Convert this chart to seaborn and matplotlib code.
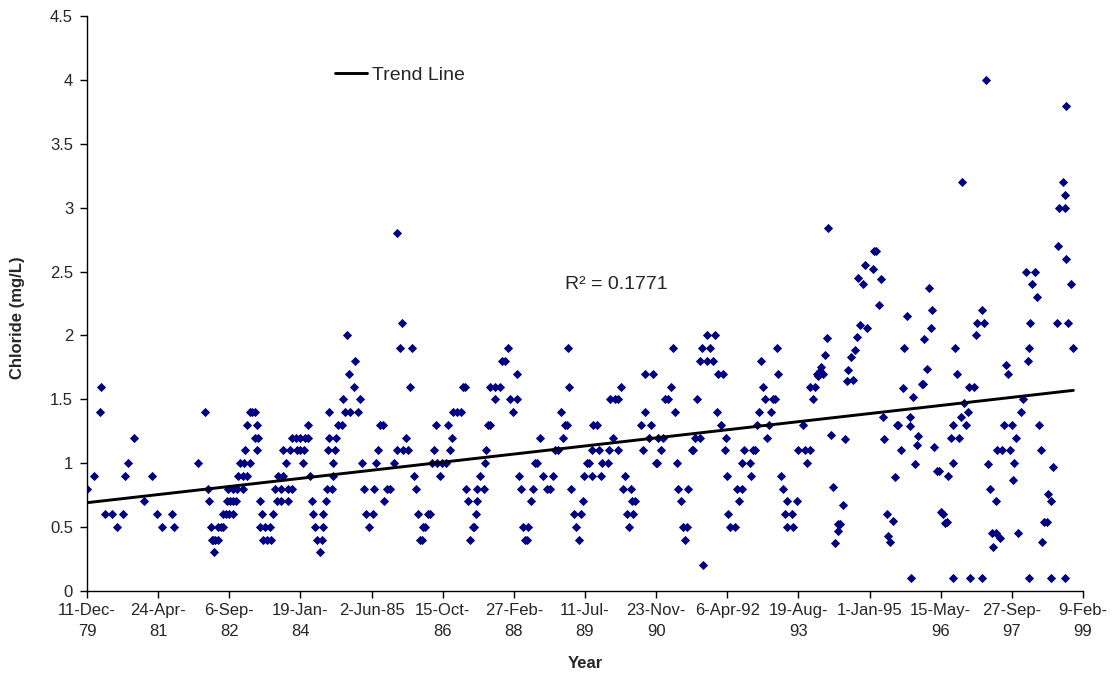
import pandas as pd
import matplotlib
matplotlib.use("Agg")
from matplotlib import pyplot as plt
from matplotlib.ticker import FuncFormatter
import seaborn as sns

# sample dates are stored as days after the first sample (11-Dec-1979)
start_date = pd.Timestamp("1979-12-11")

days_a = [2, 49, 98, 89, 127, 176, 211, 251, 265, 288,
          330, 401, 455, 490, 527, 598, 612, 780, 830, 851,
          858, 870, 886, 893, 879, 900, 921, 921, 942, 956,
          956, 977, 998, 1026, 984, 1005, 1026, 1047, 991, 1026,
          1054, 1097, 1061, 1097, 1125, 1076, 1104, 1146, 1111, 1125,
          1146]
chloride_a = [0.8, 0.9, 1.6, 1.4, 0.6, 0.6, 0.5, 0.6, 0.9, 1.0,
              1.2, 0.7, 0.9, 0.6, 0.5, 0.6, 0.5, 1.0, 1.4, 0.8,
              0.7, 0.5, 0.4, 0.3, 0.4, 0.4, 0.4, 0.5, 0.5, 0.5,
              0.6, 0.6, 0.6, 0.6, 0.7, 0.7, 0.7, 0.7, 0.8, 0.8,
              0.8, 0.8, 0.9, 0.9, 0.9, 1.0, 1.0, 1.0, 1.1, 1.3,
              1.4]

days_b = [1195, 1195, 1160, 1181, 1181, 1202, 1216, 1230, 1216, 1251,
          1286, 1237, 1265, 1294, 1308, 1322, 1364, 1336, 1364, 1343,
          1378, 1399, 1378, 1413, 1441, 1413, 1441, 1469, 1497, 1533,
          1554, 1427, 1476, 1497, 1526, 1518, 1554, 1568, 1582, 1589,
          1603, 1659, 1617, 1652, 1638, 1659, 1680, 1687, 1722, 1729,
          1729, 1694, 1743, 1701, 1750, 1765, 1793, 1701, 1800, 1814,
          1849, 1905, 1877, 1842, 1884, 1828, 1919, 1933, 1947, 1961,
          2011, 1982, 2018, 2032, 2046, 2060, 2081, 2088, 2109, 2130,
          2158, 2180, 2243, 2200, 2214, 2180]
chloride_b = [1.1, 1.3, 1.4, 1.4, 1.2, 1.2, 0.7, 0.6, 0.5, 0.5,
              0.5, 0.4, 0.4, 0.4, 0.6, 0.8, 0.8, 0.7, 0.7, 0.9,
              0.9, 1.0, 1.1, 0.8, 0.8, 0.7, 1.2, 1.2, 1.2, 1.2,
              1.2, 1.1, 1.1, 1.1, 1.1, 1.0, 1.3, 0.9, 0.7, 0.6,
              0.5, 0.5, 0.4, 0.4, 0.3, 0.6, 0.7, 0.8, 0.8, 0.9,
              1.0, 1.1, 1.1, 1.2, 1.2, 1.3, 1.3, 1.4, 1.5, 1.4,
              1.4, 1.4, 1.6, 1.7, 1.8, 2.0, 1.5, 1.0, 0.8, 0.6,
              0.6, 0.5, 0.8, 1.0, 1.1, 1.3, 1.3, 0.7, 0.8, 0.8,
              1.0, 1.1, 1.2, 1.9, 2.1, 2.8]

days_c = [2285, 2271, 2222, 2257, 2299, 2313, 2327, 2362, 2376, 2341,
          2355, 2397, 2411, 2425, 2461, 2496, 2524, 2439, 2453, 2482,
          2538, 2552, 2566, 2573, 2601, 2629, 2643, 2657, 2664, 2678,
          2692, 2714, 2721, 2735, 2742, 2742, 2791, 2763, 2798, 2805,
          2819, 2833, 2833, 2868, 2903, 2868, 2917, 2939, 2960, 3023,
          2974, 3023, 2995, 3037, 3051, 3065, 3100, 3079, 3093, 3121,
          3135, 3149, 3164, 3185, 3206, 3276, 3234, 3255, 3290, 3311,
          3332, 3346, 3360, 3381, 3388]
chloride_c = [1.9, 1.6, 1.1, 1.1, 0.9, 0.8, 0.6, 0.5, 0.5, 0.4,
              0.4, 0.6, 0.6, 1.0, 1.0, 1.0, 1.0, 1.1, 1.3, 0.9,
              1.3, 1.1, 1.2, 1.4, 1.4, 1.4, 1.6, 1.6, 0.8, 0.7,
              0.4, 0.5, 0.5, 0.6, 0.7, 0.8, 0.8, 0.9, 1.0, 1.1,
              1.3, 1.3, 1.6, 1.6, 1.6, 1.5, 1.8, 1.8, 1.9, 1.7,
              1.5, 1.5, 1.4, 0.9, 0.8, 0.5, 0.5, 0.4, 0.4, 0.7,
              0.8, 1.0, 1.0, 1.2, 0.9, 0.9, 0.8, 0.8, 1.1, 1.1,
              1.4, 1.2, 1.3, 1.9, 1.6]

days_d = [3374, 3402, 3424, 3473, 3438, 3459, 3487, 3494, 3550, 3515,
          3529, 3550, 3599, 3557, 3585, 3613, 3620, 3663, 3670, 3698,
          3677, 3712, 3733, 3733, 3754, 3782, 3768, 3824, 3831, 3852,
          3796, 3838, 3810, 3895, 3909, 3923, 3923, 3979, 3951, 3965,
          4000, 4007, 4014, 4049, 4035, 4063, 4084, 4106, 4120, 4134,
          4148, 4155, 4225, 4176, 4190, 4218, 4204, 4253, 4260, 4288,
          4274, 4309, 4309, 4359, 4323, 4380, 4359, 4415, 4401, 4330,
          4436, 4471, 4429, 4457, 4492, 4485, 4499, 4506, 4520]
chloride_d = [1.3, 0.8, 0.6, 0.6, 0.5, 0.4, 0.7, 0.9, 0.9, 1.0,
              1.0, 1.1, 1.1, 1.3, 1.3, 0.9, 1.0, 1.0, 1.1, 1.2,
              1.5, 1.5, 1.5, 1.1, 1.6, 0.9, 0.8, 0.8, 0.7, 0.7,
              0.6, 0.6, 0.5, 1.3, 1.1, 1.4, 1.7, 1.7, 1.2, 1.3,
              1.0, 1.0, 1.2, 1.2, 1.1, 1.5, 1.5, 1.6, 1.9, 1.4,
              1.0, 0.8, 0.8, 0.7, 0.5, 0.5, 0.4, 1.1, 1.1, 1.5,
              1.2, 1.2, 1.8, 1.8, 1.9, 1.9, 2.0, 2.0, 1.8, 0.2,
              1.7, 1.7, 1.4, 1.3, 1.2, 1.1, 0.9, 0.6, 0.5]

days_e = [4555, 4569, 4605, 4584, 4605, 4661, 4619, 4682, 4696, 4668,
          4710, 4724, 4738, 4752, 4766, 4809, 4794, 4780, 4823, 4837,
          4851, 4858, 4879, 4893, 4907, 4956, 4921, 4991, 4921, 4963,
          4998, 5048, 5083, 5033, 5062, 5083, 5118, 5104, 5132, 5139,
          5153, 5174, 5160, 5188, 5202, 5209, 5230, 5244, 5258, 5280,
          5294, 5280, 5315, 5329, 5343, 5350, 5371, 5385, 5399, 5413,
          5434, 5483, 5420, 5455, 5469, 5526, 5533, 5547, 5582, 5568,
          5596, 5603, 5624, 5631]
chloride_e = [0.5, 0.8, 0.8, 0.7, 1.0, 1.0, 1.1, 1.1, 1.1, 0.9,
              1.3, 1.4, 1.8, 1.6, 1.5, 1.4, 1.3, 1.2, 1.5, 1.5,
              1.9, 1.7, 0.9, 0.8, 0.6, 0.6, 0.7, 0.7, 0.5, 0.5,
              1.1, 1.1, 1.1, 1.3, 1.0, 1.6, 1.6, 1.5, 1.7, 1.68,
              1.72, 1.7, 1.75, 1.85, 1.98, 2.84, 1.22, 0.81, 0.37, 0.52,
              0.52, 0.47, 0.67, 1.19, 1.64, 1.73, 1.83, 1.65, 1.89, 1.99,
              2.08, 2.06, 2.45, 2.4, 2.55, 2.52, 2.66, 2.66, 2.44, 2.24,
              1.36, 1.19, 0.6, 0.43]

days_f = [5666, 5645, 5680, 5694, 5701, 5722, 5736, 5743, 5765, 5786,
          5786, 5807, 5793, 5821, 5835, 5842, 5870, 5877, 5884, 5905,
          5919, 5933, 5940, 5954, 5975, 5990, 6004, 6018, 6032, 6046,
          6053, 6074, 6088, 6088, 6088, 6102, 6117, 6131, 6145, 6152,
          6166, 6180, 6194, 6201, 6236, 6208, 6250, 6257, 6306, 6292,
          6292, 6320, 6334, 6348, 6362, 6390, 6369, 6390, 6397]
chloride_f = [0.55, 0.38, 0.89, 1.3, 1.3, 1.1, 1.59, 1.9, 2.15, 1.36,
              1.29, 1.52, 0.1, 0.99, 1.14, 1.21, 1.62, 1.62, 1.97, 1.74,
              2.37, 2.06, 2.2, 1.13, 0.94, 0.94, 0.62, 0.6, 0.53, 0.54,
              0.9, 1.2, 1.3, 1.0, 0.1, 1.9, 1.7, 1.2, 1.36, 3.2,
              1.47, 1.3, 1.4, 1.6, 1.6, 0.1, 2.0, 2.1, 2.1, 2.2,
              0.1, 4.0, 0.99, 0.8, 0.45, 0.45, 0.34, 0.7, 1.1]

days_g = [6418, 6461, 6475, 6447, 6503, 6531, 6433, 6489, 6517, 6510,
          6545, 6566, 6580, 6601, 6664, 6643, 6679, 6629, 6622, 6615,
          6622, 6693, 6707, 6791, 6756, 6777, 6728, 6749, 6714, 6777,
          6819, 6826, 6833, 6875, 6861, 6875, 6882, 6882, 6897, 6918,
          6932, 6875]
chloride_g = [0.41, 1.77, 1.7, 1.3, 1.3, 1.2, 1.1, 1.1, 1.0, 0.87,
              0.45, 1.4, 1.5, 2.5, 2.5, 2.4, 2.3, 2.1, 1.9, 1.8,
              0.1, 1.3, 1.1, 0.97, 0.76, 0.7, 0.54, 0.54, 0.38, 0.1,
              2.1, 2.7, 3.0, 3.0, 3.2, 3.1, 2.6, 3.8, 2.1, 2.4,
              1.9, 0.1]

# linear trend (Excel trendline), endpoints at first and last sample
trend_days = [2, 6932]
trend_values = [0.69, 1.57]
r_squared = "0.1771"

tick_days = [0, 500, 1000, 1500, 2000, 2500, 3000, 3500,
             4000, 4500, 5000, 5500, 6000, 6500, 7000]
tick_labels = ["11-Dec-\n79", "24-Apr-\n81", "6-Sep-\n82", "19-Jan-\n84",
               "2-Jun-85\n", "15-Oct-\n86", "27-Feb-\n88", "11-Jul-\n89",
               "23-Nov-\n90", "6-Apr-92\n", "19-Aug-\n93", "1-Jan-95\n",
               "15-May-\n96", "27-Sep-\n97", "9-Feb-\n99"]

all_days = days_a + days_b + days_c + days_d + days_e + days_f + days_g
all_cl = chloride_a + chloride_b + chloride_c + chloride_d + chloride_e + chloride_f + chloride_g
df = pd.DataFrame({"date": start_date + pd.to_timedelta(all_days, unit="D"),
                   "chloride": all_cl})
trend = pd.DataFrame({"date": start_date + pd.to_timedelta(trend_days, unit="D"),
                      "chloride": trend_values})

sns.set_style("ticks")
plt.rcParams["font.family"] = ["Liberation Sans", "DejaVu Sans"]

fig = plt.figure(figsize=(11.14, 6.81), dpi=100)
ax = fig.add_axes([0.0781, 0.1326, 0.8941, 0.8432])

sns.scatterplot(data=df, x="date", y="chloride", marker="D", s=22,
                color="#000080", linewidth=0, ax=ax, zorder=2)
sns.lineplot(data=trend, x="date", y="chloride", color="black", lw=2.1,
             label="Trend Line", ax=ax, zorder=3)

ax.set_xlim(start_date, start_date + pd.Timedelta(days=7000))
ax.set_ylim(0, 4.5)
ax.set_xticks(start_date + pd.to_timedelta(tick_days, unit="D"))
ax.set_xticklabels(tick_labels, fontsize=12, linespacing=1.45)
ax.set_yticks([0, 0.5, 1, 1.5, 2, 2.5, 3, 3.5, 4, 4.5])
ax.yaxis.set_major_formatter(FuncFormatter(lambda v, p: f"{v:g}"))
ax.tick_params(axis="y", labelsize=12, length=5, width=1, color="black", pad=5)
ax.tick_params(axis="x", length=5, width=1, color="black", pad=4)
for s in ["left", "bottom"]:
    ax.spines[s].set_color("black")
    ax.spines[s].set_linewidth(1)
sns.despine(ax=ax)

ax.set_ylabel("Chloride (mg/L)", fontsize=12, fontweight="bold")
ax.yaxis.set_label_coords(-0.062, 0.475)
ax.set_xlabel("Year", fontsize=12, fontweight="bold", va="top")
ax.xaxis.set_label_coords(0.5, -0.113)

ax.text(start_date + pd.Timedelta(days=3360), 2.4, "R\u00b2 = " + r_squared,
        fontsize=14, va="center", ha="left")

ax.legend(loc="center left", bbox_to_anchor=(0.249, 0.898), frameon=False,
          fontsize=14, handlelength=1.65, handletextpad=0.25,
          borderpad=0, borderaxespad=0)

fig.savefig("out.png", dpi=100)
